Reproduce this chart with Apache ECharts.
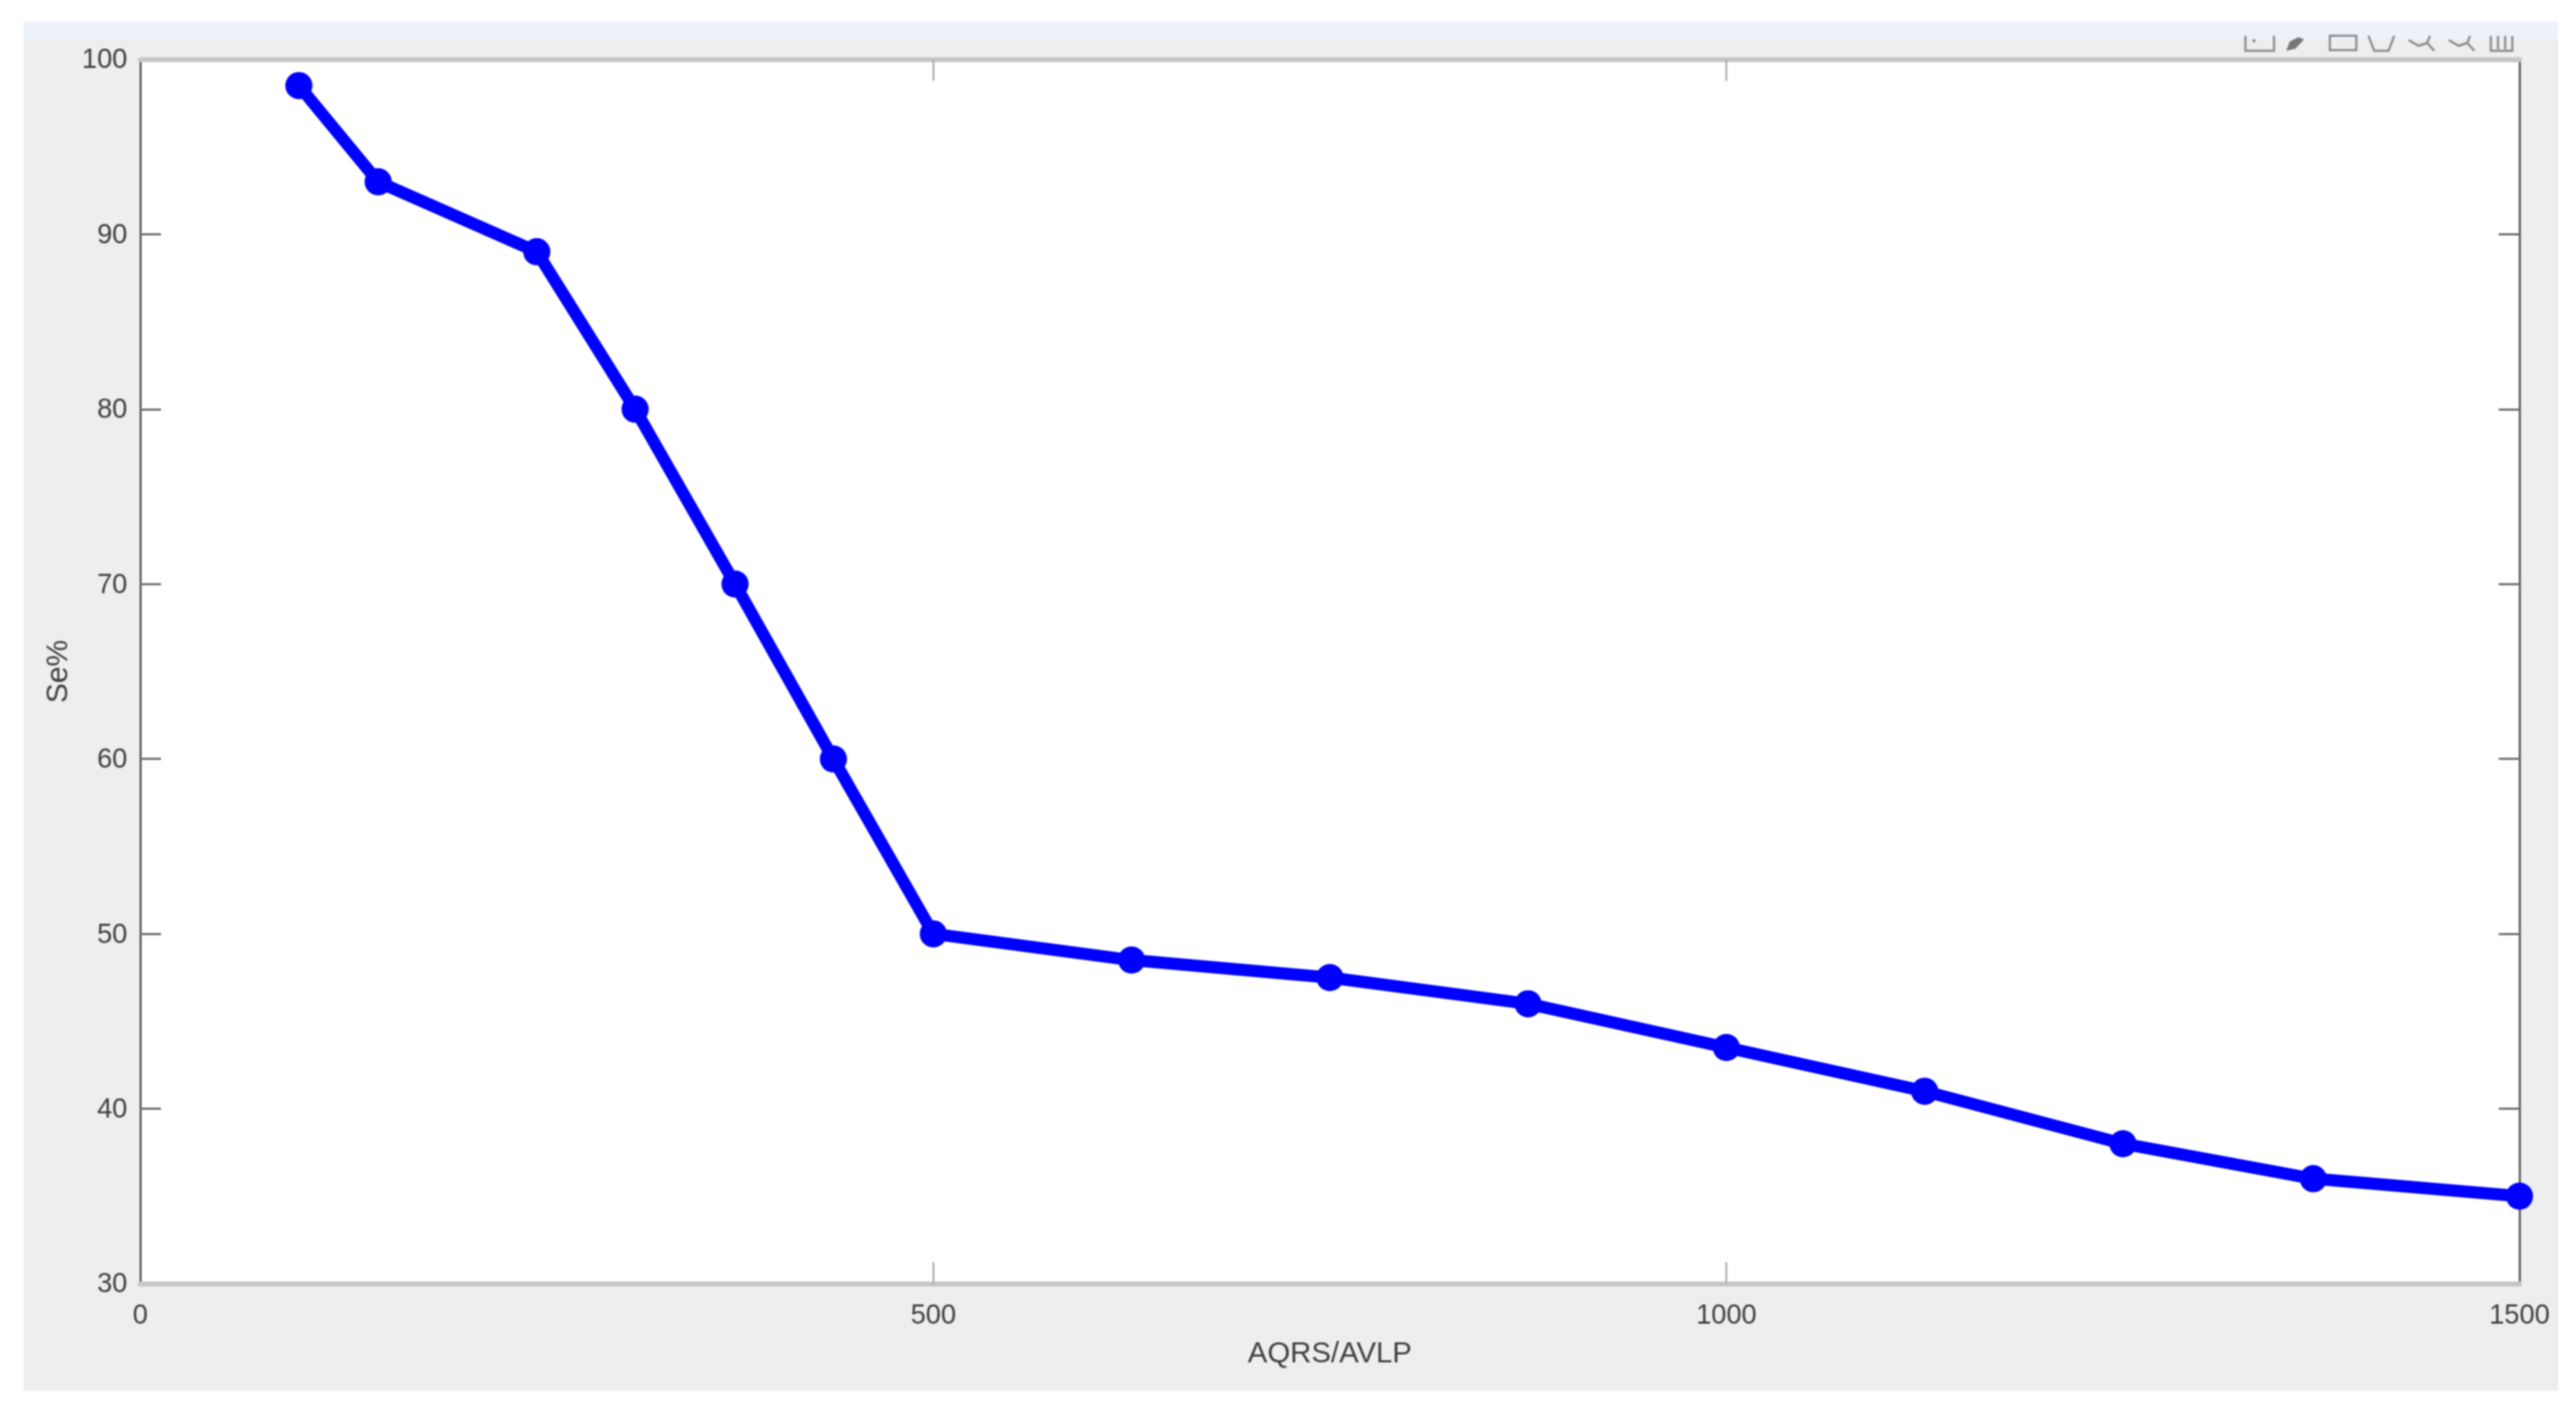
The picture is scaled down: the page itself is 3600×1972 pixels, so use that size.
<!DOCTYPE html>
<html>
<head>
<meta charset="utf-8">
<style>
html,body{margin:0;padding:0;background:#fff}
#chart{width:3600px;height:1972px;filter:blur(0.9px)}
</style>
<script src="https://cdn.jsdelivr.net/npm/echarts@6/dist/echarts.min.js"></script>
</head>
<body>
<div id="chart"></div>
<script>
const xValues = [100,150,250,312,375,437,500,625,750,875,1000,1125,1250,1370,1500];
const seValues = [98.5,93,89,80,70,60,50,48.5,47.5,46,43.5,41,38,36,35];
const xTicks = [500,1000];
const yTicks = [40,50,60,70,80,90];
const xName = 'AQRS/AVLP';
const yName = 'Se%';

const font = '"Liberation Sans", Arial, sans-serif';
const ink = '#404040';
const iconLine = {stroke:'#8a8a8a',lineWidth:3,fill:null};
function poly(points){return {type:'polyline',shape:{points},style:iconLine};}
const plain = v => String(v);

const chart = echarts.init(document.getElementById('chart'),null,{renderer:'canvas'});
const xAxisBase = {type:'value',min:0,max:1500,interval:500,splitLine:{show:false},
  axisLine:{show:true,onZero:false,lineStyle:{color:'#c6c6c6',width:7}},
  axisTick:{show:true,inside:true,length:30,customValues:xTicks,lineStyle:{color:'#b4b4b4',width:3}}};
const yAxisBase = {type:'value',min:30,max:100,interval:10,splitLine:{show:false},
  axisLine:{show:true,onZero:false,lineStyle:{color:'#5c5c5c',width:3}},
  axisTick:{show:true,inside:true,length:29,customValues:yTicks,lineStyle:{color:'#6e6e6e',width:3}}};

chart.setOption({
  animation:false,
  backgroundColor:'#ffffff',
  graphic:{elements:[
    {type:'rect',z:-100,silent:true,shape:{x:33,y:30,width:3542,height:1914},style:{fill:'#eeeeee'}},
    // figure toolbar, cut off by the band above it
    {type:'group',z:-90,silent:true,children:[
      poly([[3138,50],[3138,71],[3178,71],[3178,50]]),
      {type:'rect',shape:{x:3148,y:55,width:4,height:4},style:{fill:'#8a8a8a'}},
      {type:'polygon',shape:{points:[[3195,71],[3200,58],[3212,52],[3220,55],[3208,68]]},style:{fill:'#777777'}},
      {type:'rect',shape:{x:3256,y:50,width:37,height:20},style:iconLine},
      poly([[3310,50],[3318,71],[3338,71],[3346,50]]),
      poly([[3366,56],[3380,64],[3392,60],[3402,71]]),
      poly([[3392,60],[3396,50]]),
      poly([[3422,56],[3436,64],[3448,60],[3458,71]]),
      poly([[3448,60],[3452,50]]),
      poly([[3481,50],[3481,71],[3511,71],[3511,50]]),
      poly([[3491,50],[3491,69]]),
      poly([[3501,50],[3501,69]])
    ]},
    {type:'rect',z:-80,silent:true,shape:{x:33,y:30,width:3542,height:25},style:{fill:'#ecf1fa'}}
  ]},
  grid:{left:196,top:83,width:3325,height:1711,show:true,backgroundColor:'#ffffff',borderWidth:0},
  xAxis:[
    Object.assign({},xAxisBase,{position:'bottom',name:xName,nameLocation:'middle',nameGap:78,
      nameTextStyle:{fontFamily:font,fontSize:41,color:ink},
      axisLabel:{show:true,margin:27,formatter:plain,fontFamily:font,fontSize:38,color:ink,showMinLabel:true,showMaxLabel:true}}),
    Object.assign({},xAxisBase,{position:'top',axisLabel:{show:false}})
  ],
  yAxis:[
    Object.assign({},yAxisBase,{position:'left',name:yName,nameLocation:'middle',nameGap:93,
      nameTextStyle:{fontFamily:font,fontSize:42,color:ink},
      axisLabel:{show:true,margin:18,formatter:plain,verticalAlign:'top',lineHeight:4,fontFamily:font,fontSize:38,color:ink,showMinLabel:true,showMaxLabel:true}}),
    Object.assign({},yAxisBase,{position:'right',axisLabel:{show:false}})
  ],
  series:[{
    type:'line',
    data:xValues.map((x,i)=>[x,seValues[i]]),
    clip:false,
    symbol:'circle',
    symbolSize:38,
    lineStyle:{color:'#0000ff',width:17,cap:'round',join:'round'},
    itemStyle:{color:'#0000ff'},
    z:5
  }]
});
</script>
</body>
</html>
